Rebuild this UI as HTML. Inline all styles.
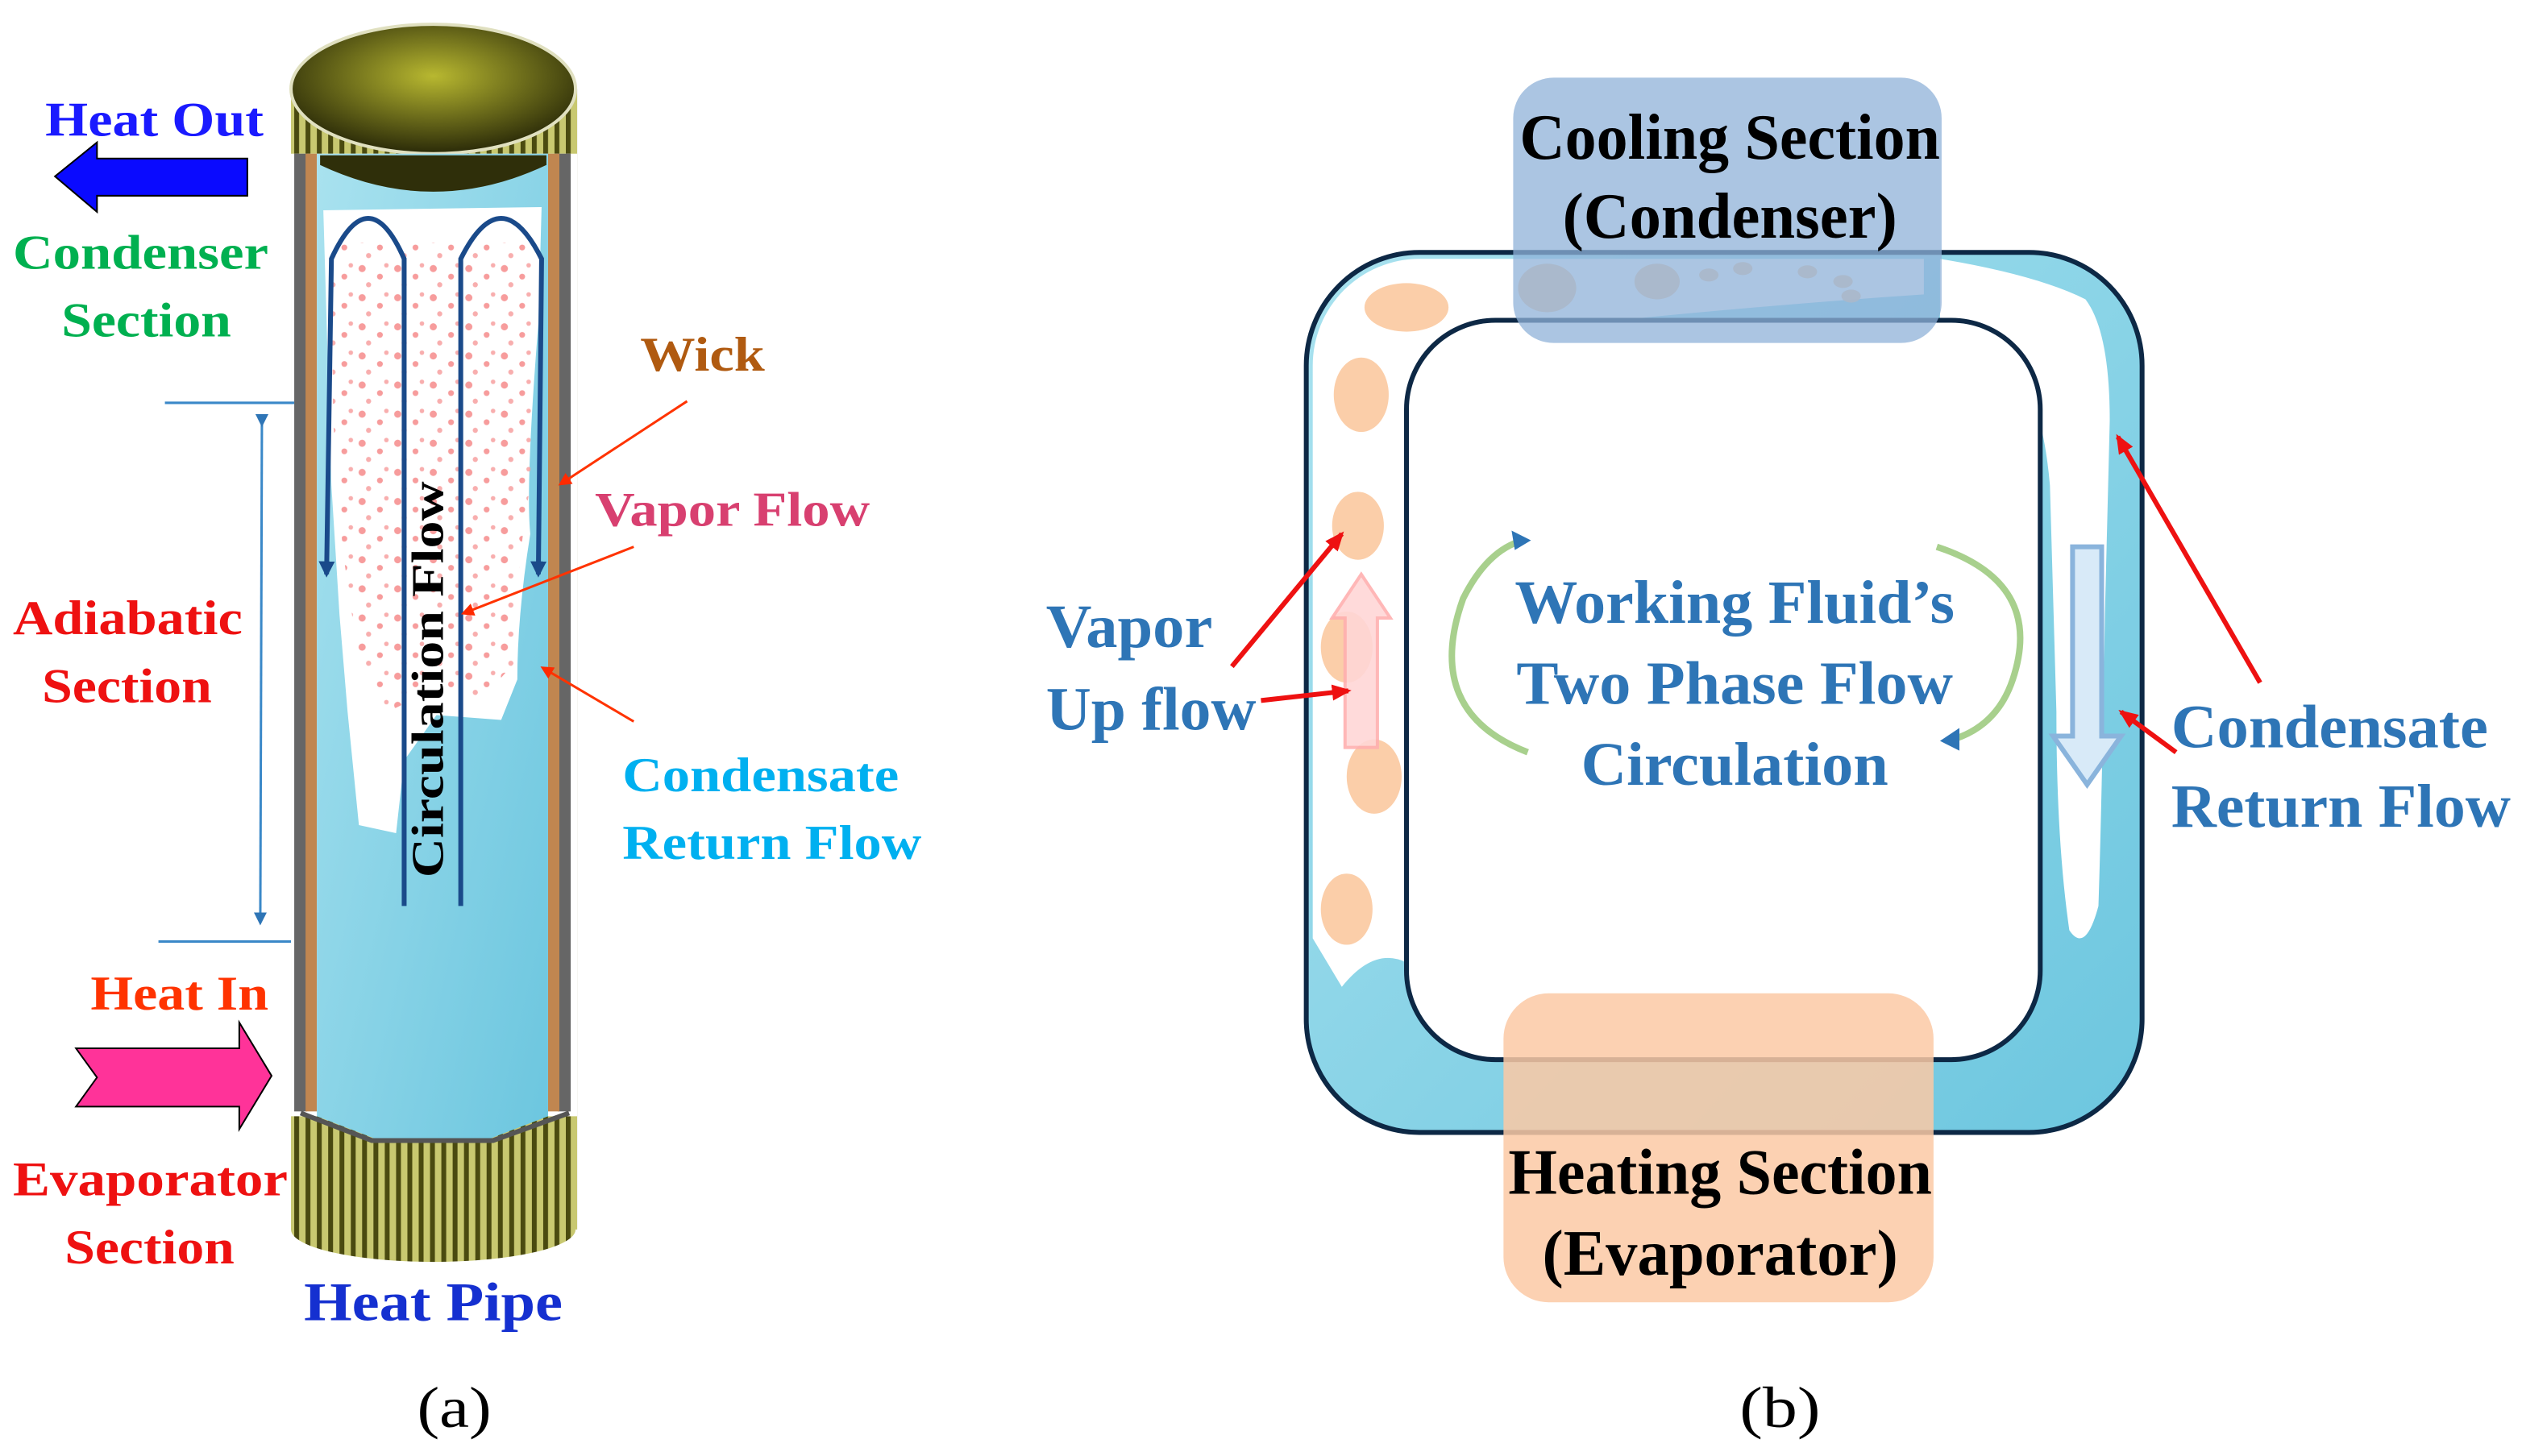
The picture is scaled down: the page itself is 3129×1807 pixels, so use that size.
<!DOCTYPE html>
<html><head><meta charset="utf-8"><style>
html,body{margin:0;padding:0;background:#fff;}
svg{display:block;}
text{font-family:"Liberation Serif",serif;font-weight:bold;}
</style></head><body>
<svg width="3129" height="1807" viewBox="0 0 1560 900" preserveAspectRatio="none" xmlns="http://www.w3.org/2000/svg">
<defs>
<pattern id="stripe" width="7" height="10" patternUnits="userSpaceOnUse">
<rect width="7" height="10" fill="#c8c870"/><rect width="3" height="10" fill="#4a4a10"/>
</pattern>
<radialGradient id="top" cx="0.5" cy="0.4" r="0.6"><stop offset="0" stop-color="#b8b830"/><stop offset="1" stop-color="#2a2a08"/></radialGradient>
<linearGradient id="wat" x1="0" y1="0" x2="1" y2="1"><stop offset="0" stop-color="#a9e2ef"/><stop offset="1" stop-color="#6cc6df"/></linearGradient>
<marker id="ar" markerWidth="8" markerHeight="8" refX="6" refY="4" orient="auto" markerUnits="userSpaceOnUse"><path d="M0,0L8,4L0,8z" fill="#ff2a00"/></marker>
<marker id="rr" markerWidth="12" markerHeight="10" refX="10" refY="5" orient="auto" markerUnits="userSpaceOnUse"><path d="M0,0L12,5L0,10z" fill="#ee1111"/></marker>
<marker id="db" markerWidth="10" markerHeight="10" refX="8" refY="5" orient="auto" markerUnits="userSpaceOnUse"><path d="M0,0L10,5L0,10z" fill="#1a4a8a"/></marker>
<marker id="bl" markerWidth="8" markerHeight="8" refX="6" refY="4" orient="auto" markerUnits="userSpaceOnUse"><path d="M0,0L8,4L0,8z" fill="#2e75b6"/></marker>
<pattern id="dots" width="22" height="18" patternUnits="userSpaceOnUse">
<circle cx="4" cy="4" r="2.2" fill="#f58a8a"/><circle cx="15" cy="9" r="1.8" fill="#f58a8a"/><circle cx="8" cy="14" r="1.6" fill="#f7a0a0"/><circle cx="19" cy="2" r="1.4" fill="#f7a0a0"/>
</pattern>
</defs>

<!-- LEFT: heat pipe -->
<rect x="180" y="55" width="177" height="705" fill="url(#stripe)"/>
<ellipse cx="268" cy="760" rx="88" ry="20" fill="url(#stripe)"/>
<ellipse cx="268" cy="55" rx="88" ry="40" fill="url(#top)" stroke="#e0e0c0" stroke-width="2"/>
<rect x="180" y="95" width="177" height="595" fill="#fff"/>
<rect x="182" y="95" width="8" height="592" fill="#666"/>
<rect x="345" y="95" width="8" height="592" fill="#666"/>
<rect x="189" y="95" width="7" height="592" fill="#c08650"/>
<rect x="339" y="95" width="7" height="592" fill="#c08650"/>
<path d="M196,95 L339,95 L339,690 L300,705 L235,705 L196,690 Z" fill="url(#wat)"/>
<path d="M186,688 L230,705 L305,705 L352,688" fill="none" stroke="#555" stroke-width="3"/>
<path d="M198,102 Q268,135 338,102 L338,96 L198,96Z" fill="#2f2f0a"/>
<path d="M200,130 L335,128 L333,200 Q325,300 328,330 Q320,380 320,420 L310,445 L270,442 L250,470 L245,515 L222,510 L215,440 L210,380 L205,300 Z" fill="#fff"/>
<path d="M205,150 L330,150 L328,300 Q318,360 318,410 L300,430 L260,430 L240,440 L222,410 L212,340 L206,260 Z" fill="url(#dots)" opacity="0.85"/>
<path d="M250,560 L250,160 Q228,110 205,160 L202,355" fill="none" stroke="#1a4a8a" stroke-width="3" marker-end="url(#db)"/>
<path d="M285,560 L285,160 Q310,110 335,160 L333,355" fill="none" stroke="#1a4a8a" stroke-width="3" marker-end="url(#db)"/>
<text x="0" y="0" transform="translate(274,420) rotate(-90)" font-size="28" fill="#000" text-anchor="middle" textLength="245" lengthAdjust="spacingAndGlyphs">Circulation Flow</text>

<text x="28" y="84" font-size="30" fill="#1a1aff" textLength="135" lengthAdjust="spacingAndGlyphs">Heat Out</text>
<path d="M153,98 L60,98 L60,88 L34,109 L60,131 L60,121 L153,121 Z" fill="#0a0aff" stroke="#000" stroke-width="1"/>
<text x="8" y="166" font-size="30" fill="#00b050" textLength="158" lengthAdjust="spacingAndGlyphs">Condenser</text>
<text x="38" y="208" font-size="30" fill="#00b050" textLength="105" lengthAdjust="spacingAndGlyphs">Section</text>
<line x1="102" y1="249" x2="182" y2="249" stroke="#3a88c8" stroke-width="1.5"/>
<line x1="98" y1="582" x2="180" y2="582" stroke="#3a88c8" stroke-width="1.5"/>
<line x1="162" y1="262" x2="161" y2="570" stroke="#3a88c8" stroke-width="1.5" marker-start="url(#bl)" marker-end="url(#bl)"/>
<text x="8" y="392" font-size="30" fill="#ee1111" textLength="142" lengthAdjust="spacingAndGlyphs">Adiabatic</text>
<text x="26" y="434" font-size="30" fill="#ee1111" textLength="105" lengthAdjust="spacingAndGlyphs">Section</text>
<text x="56" y="624" font-size="30" fill="#ff3300" textLength="110" lengthAdjust="spacingAndGlyphs">Heat In</text>
<path d="M47,648 L148,648 L148,632 L168,665 L148,698 L148,684 L47,684 L60,666 Z" fill="#ff3399" stroke="#000" stroke-width="1"/>
<text x="8" y="739" font-size="30" fill="#ee1111" textLength="170" lengthAdjust="spacingAndGlyphs">Evaporator</text>
<text x="40" y="781" font-size="30" fill="#ee1111" textLength="105" lengthAdjust="spacingAndGlyphs">Section</text>
<text x="188" y="816" font-size="34" fill="#1530d0" textLength="160" lengthAdjust="spacingAndGlyphs">Heat Pipe</text>
<text x="396" y="229" font-size="30" fill="#b05a10" textLength="77" lengthAdjust="spacingAndGlyphs">Wick</text>
<line x1="425" y1="248" x2="347" y2="299" stroke="#ff3300" stroke-width="1.5" marker-end="url(#ar)"/>
<text x="368" y="325" font-size="30" fill="#d84070" textLength="170" lengthAdjust="spacingAndGlyphs">Vapor Flow</text>
<line x1="392" y1="338" x2="287" y2="379" stroke="#ff3300" stroke-width="1.5" marker-end="url(#ar)"/>
<text x="385" y="489" font-size="30" fill="#00b0f0" textLength="171" lengthAdjust="spacingAndGlyphs">Condensate</text>
<text x="385" y="531" font-size="30" fill="#00b0f0" textLength="185" lengthAdjust="spacingAndGlyphs">Return Flow</text>
<line x1="392" y1="446" x2="336" y2="413" stroke="#ff3300" stroke-width="1.5" marker-end="url(#ar)"/>
<text x="258" y="882" font-size="36" fill="#000" style="font-weight:normal" textLength="46" lengthAdjust="spacingAndGlyphs">(a)</text>

<!-- RIGHT: loop -->
<path fill-rule="evenodd" fill="url(#wat)" d="M878,156 H1255 A70,70 0 0 1 1325,226 V630 A70,70 0 0 1 1255,700 H878 A70,70 0 0 1 808,630 V226 A70,70 0 0 1 878,156 Z M925,198 H1207 A55,55 0 0 1 1262,253 V600 A55,55 0 0 1 1207,655 H925 A55,55 0 0 1 870,600 V253 A55,55 0 0 1 925,198 Z"/>
<path d="M812,580 L812,226 A66,66 0 0 1 878,160 L1190,160 L1190,182 Q1100,188 1000,198 L925,198 A55,55 0 0 0 870,253 L870,595 Q850,585 830,610 Z" fill="#fff"/>
<path d="M1200,160 Q1260,170 1290,185 Q1305,205 1305,260 L1302,380 Q1300,500 1298,560 Q1290,590 1280,575 Q1272,520 1272,440 L1268,300 Q1262,230 1230,205 L1200,198 Z" fill="#fff"/>
<rect x="808" y="156" width="517" height="544" rx="70" fill="none" stroke="#0d2845" stroke-width="3"/>
<rect x="870" y="198" width="392" height="457" rx="55" fill="none" stroke="#0d2845" stroke-width="3"/>
<g fill="#fbc9a0" opacity="0.9">
<ellipse cx="870" cy="190" rx="26" ry="15"/><ellipse cx="842" cy="244" rx="17" ry="23"/><ellipse cx="840" cy="325" rx="16" ry="21"/><ellipse cx="833" cy="400" rx="16" ry="22"/><ellipse cx="850" cy="480" rx="17" ry="23"/><ellipse cx="833" cy="562" rx="16" ry="22"/>
<ellipse cx="957" cy="178" rx="18" ry="15"/><ellipse cx="1025" cy="174" rx="14" ry="11"/><ellipse cx="1057" cy="170" rx="6" ry="4"/><ellipse cx="1078" cy="166" rx="6" ry="4"/><ellipse cx="1118" cy="168" rx="6" ry="4"/><ellipse cx="1140" cy="174" rx="6" ry="4"/><ellipse cx="1145" cy="183" rx="6" ry="4"/>
</g>
<rect x="936" y="48" width="265" height="164" rx="25" fill="#8fb2d8" opacity="0.75"/>
<rect x="930" y="614" width="266" height="191" rx="28" fill="#fbc9a4" opacity="0.85"/>
<text x="1070" y="98" font-size="40" fill="#000" text-anchor="middle" textLength="260" lengthAdjust="spacingAndGlyphs">Cooling Section</text>
<text x="1070" y="147" font-size="40" fill="#000" text-anchor="middle" textLength="207" lengthAdjust="spacingAndGlyphs">(Condenser)</text>
<text x="1064" y="738" font-size="40" fill="#000" text-anchor="middle" textLength="262" lengthAdjust="spacingAndGlyphs">Heating Section</text>
<text x="1064" y="788" font-size="40" fill="#000" text-anchor="middle" textLength="220" lengthAdjust="spacingAndGlyphs">(Evaporator)</text>
<text x="1073" y="385" font-size="38" fill="#2e75b6" text-anchor="middle" textLength="272" lengthAdjust="spacingAndGlyphs">Working Fluid’s</text>
<text x="1073" y="435" font-size="38" fill="#2e75b6" text-anchor="middle" textLength="270" lengthAdjust="spacingAndGlyphs">Two Phase Flow</text>
<text x="1073" y="485" font-size="38" fill="#2e75b6" text-anchor="middle" textLength="190" lengthAdjust="spacingAndGlyphs">Circulation</text>
<path d="M945,465 Q880,440 905,370 Q920,340 942,334" fill="none" stroke="#a8d08d" stroke-width="4"/>
<path d="M1198,338 Q1265,360 1245,420 Q1235,450 1205,458" fill="none" stroke="#a8d08d" stroke-width="4"/>
<path d="M1200,458 L1212,450 L1212,464Z" fill="#2e75b6"/>
<path d="M947,334 L935,328 L937,340Z" fill="#2e75b6"/>
<path d="M832,462 L832,382 L824,382 L842,355 L860,382 L852,382 L852,462 Z" fill="#ffd6d6" stroke="#ffb0b0" stroke-width="2" opacity="0.9"/>
<path d="M1282,338 L1300,338 L1300,455 L1312,455 L1291,485 L1270,455 L1282,455 Z" fill="#d8eaf8" stroke="#8ab4dc" stroke-width="3"/>
<text x="647" y="400" font-size="38" fill="#2e75b6" textLength="103" lengthAdjust="spacingAndGlyphs">Vapor</text>
<text x="647" y="451" font-size="38" fill="#2e75b6" textLength="130" lengthAdjust="spacingAndGlyphs">Up flow</text>
<line x1="762" y1="412" x2="830" y2="330" stroke="#ee1111" stroke-width="3" marker-end="url(#rr)"/>
<line x1="780" y1="433" x2="834" y2="427" stroke="#ee1111" stroke-width="3" marker-end="url(#rr)"/>
<text x="1343" y="462" font-size="38" fill="#2e75b6" textLength="196" lengthAdjust="spacingAndGlyphs">Condensate</text>
<text x="1343" y="511" font-size="38" fill="#2e75b6" textLength="210" lengthAdjust="spacingAndGlyphs">Return Flow</text>
<line x1="1398" y1="422" x2="1310" y2="270" stroke="#ee1111" stroke-width="3" marker-end="url(#rr)"/>
<line x1="1346" y1="465" x2="1312" y2="440" stroke="#ee1111" stroke-width="3" marker-end="url(#rr)"/>
<text x="1076" y="882" font-size="36" fill="#000" style="font-weight:normal" textLength="50" lengthAdjust="spacingAndGlyphs">(b)</text>
</svg>
</body></html>
